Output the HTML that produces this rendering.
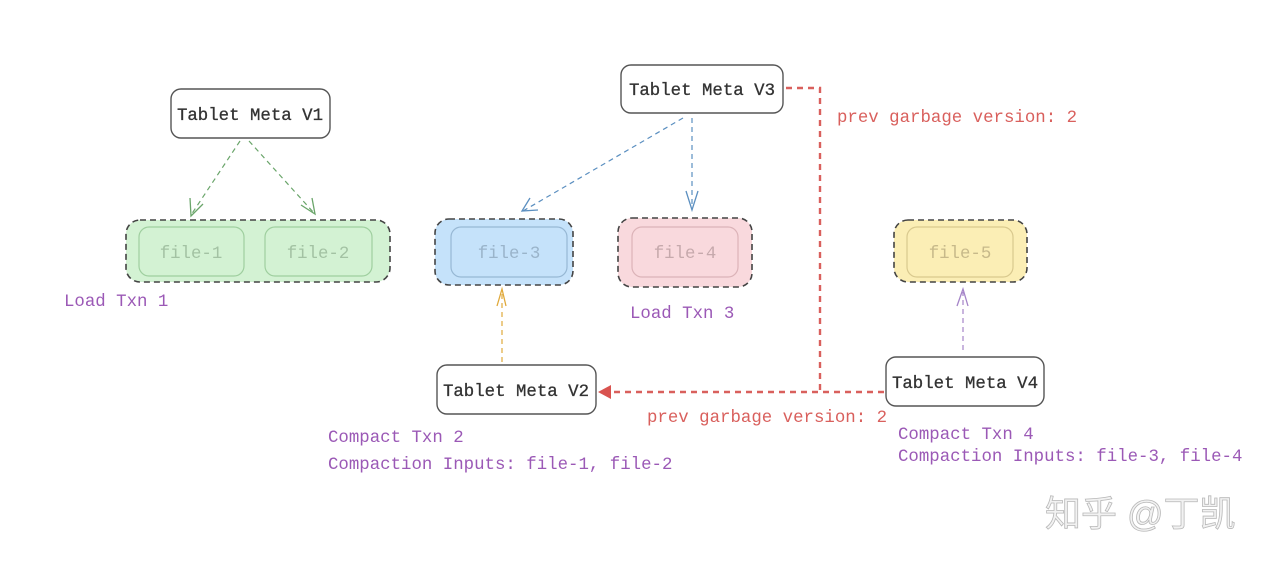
<!DOCTYPE html>
<html><head><meta charset="utf-8"><style>
html,body{margin:0;padding:0;background:#fff;}
svg{display:block;}
text{font-family:"Liberation Mono",monospace;}
</style></head><body>
<svg width="1280" height="562" viewBox="0 0 1280 562" xmlns="http://www.w3.org/2000/svg">
<rect x="126" y="220" width="264" height="62" rx="14" fill="#d3f2d3" stroke="#444" stroke-width="1.6" stroke-dasharray="6 4"/>
<rect x="139" y="227" width="105" height="49" rx="10" fill="none" stroke="#9fcf9f" stroke-width="1.2"/>
<rect x="265" y="227" width="107" height="49" rx="10" fill="none" stroke="#9fcf9f" stroke-width="1.2"/>
<text x="191" y="258" font-size="17.4" fill="#a3c2a3" text-anchor="middle">file-1</text>
<text x="318" y="258" font-size="17.4" fill="#a3c2a3" text-anchor="middle">file-2</text>

<rect x="435" y="219" width="138" height="66" rx="14" fill="#c5e2fa" stroke="#444" stroke-width="1.6" stroke-dasharray="6 4"/>
<rect x="451" y="227" width="116" height="50" rx="10" fill="none" stroke="#97b8d4" stroke-width="1.2"/>
<text x="509" y="258" font-size="17.4" fill="#9ab4ca" text-anchor="middle">file-3</text>

<rect x="618" y="218" width="134" height="69" rx="14" fill="#f9d9dd" stroke="#444" stroke-width="1.6" stroke-dasharray="6 4"/>
<rect x="632" y="227" width="106" height="50" rx="10" fill="none" stroke="#dcb3b8" stroke-width="1.2"/>
<text x="685" y="258" font-size="17.4" fill="#c6a9ac" text-anchor="middle">file-4</text>

<rect x="894" y="220" width="133" height="62" rx="14" fill="#fbeeb5" stroke="#444" stroke-width="1.6" stroke-dasharray="6 4"/>
<rect x="907" y="227" width="106" height="50" rx="10" fill="none" stroke="#d9c98e" stroke-width="1.2"/>
<text x="960" y="258" font-size="17.4" fill="#c7b98a" text-anchor="middle">file-5</text>

<rect x="171" y="89" width="159" height="49" rx="10" fill="#fff" stroke="#555" stroke-width="1.4"/>
<text x="250" y="120" font-size="17.4" fill="#333" text-anchor="middle" stroke="#333" stroke-width="0.3">Tablet Meta V1</text>
<rect x="621" y="65" width="162" height="48" rx="10" fill="#fff" stroke="#555" stroke-width="1.4"/>
<text x="702" y="95" font-size="17.4" fill="#333" text-anchor="middle" stroke="#333" stroke-width="0.3">Tablet Meta V3</text>
<rect x="437" y="365" width="159" height="49" rx="10" fill="#fff" stroke="#555" stroke-width="1.4"/>
<text x="516" y="396" font-size="17.4" fill="#333" text-anchor="middle" stroke="#333" stroke-width="0.3">Tablet Meta V2</text>
<rect x="886" y="357" width="158" height="49" rx="10" fill="#fff" stroke="#555" stroke-width="1.4"/>
<text x="965" y="388" font-size="17.4" fill="#333" text-anchor="middle" stroke="#333" stroke-width="0.3">Tablet Meta V4</text>

<g stroke="#6aa56a" stroke-width="1.2" fill="none" stroke-dasharray="5 4">
<line x1="240" y1="141" x2="191" y2="215"/>
<line x1="249" y1="141" x2="314" y2="213"/>
</g>
<g stroke="#6aa56a" stroke-width="1.3" fill="none">
<path d="M190 198 L191 216 L203 204"/>
<path d="M301 205 L315 214 L312 198"/>
</g>
<g stroke="#5b8fc0" stroke-width="1.2" fill="none" stroke-dasharray="5 4">
<line x1="683" y1="118" x2="523" y2="211"/>
<line x1="692" y1="118" x2="692" y2="208"/>
</g>
<g stroke="#5b8fc0" stroke-width="1.3" fill="none">
<path d="M530 198 L522 211 L538 210"/>
<path d="M686 191 L692 210 L698 191"/>
</g>
<line x1="502" y1="362" x2="502" y2="292" stroke="#e0a93b" stroke-width="1.2" stroke-dasharray="5 4"/>
<path d="M497 306 L502 289 L506 306" stroke="#e0a93b" stroke-width="1.3" fill="none"/>
<line x1="963" y1="350" x2="963" y2="292" stroke="#a584c8" stroke-width="1.2" stroke-dasharray="5 4"/>
<path d="M957 306 L963 289 L968 306" stroke="#a584c8" stroke-width="1.3" fill="none"/>
<g stroke="#d9605d" stroke-width="2.4" fill="none" stroke-dasharray="6 5">
<path d="M786 88 L820 88 L820 392"/>
<path d="M884 392 L608 392"/>
</g>
<path d="M598 392 L611 385 L611 399 Z" fill="#d9534f"/>

<g font-size="17.4">
<text x="64" y="306" fill="#9b59b6">Load Txn 1</text>
<text x="630" y="318" fill="#9b59b6">Load Txn 3</text>
<text x="837" y="122" fill="#d9605d">prev garbage version: 2</text>
<text x="647" y="422" fill="#d9605d">prev garbage version: 2</text>
<text x="328" y="442" fill="#9b59b6">Compact Txn 2</text>
<text x="328" y="469" fill="#9b59b6">Compaction Inputs: file-1, file-2</text>
<text x="898" y="439" fill="#9b59b6">Compact Txn 4</text>
<text x="898" y="461" fill="#9b59b6">Compaction Inputs: file-3, file-4</text>
</g>
<text x="1045" y="526" font-size="36" fill="#f2f2f2" stroke="#b8b8b8" stroke-width="0.8" style="font-family:'Liberation Sans','Noto Sans CJK SC',sans-serif">知乎 @丁凯</text>
</svg>
</body></html>
